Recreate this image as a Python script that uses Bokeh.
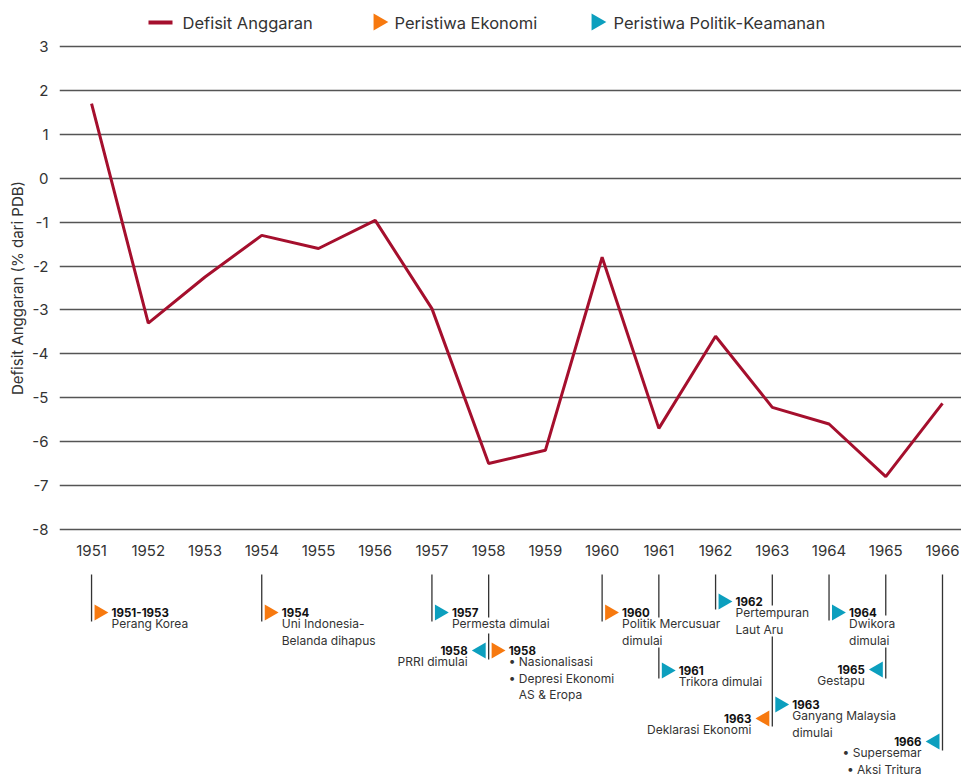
import numpy as np
from bokeh.plotting import figure
from bokeh.models import Range1d, FixedTicker, ColumnDataSource
from bokeh.layouts import column
from bokeh.embed import file_html
from bokeh.resources import INLINE
from bokeh.core.properties import value

# ---------------- data ----------------
years = [1951, 1952, 1953, 1954, 1955, 1956, 1957, 1958,
         1959, 1960, 1961, 1962, 1963, 1964, 1965, 1966]
deficit = [1.7, -3.3, -2.25, -1.3, -1.6, -0.96, -2.97, -6.5,
           -6.2, -1.8, -5.7, -3.6, -5.22, -5.6, -6.8, -5.13]
y_ticks = list(range(-8, 4))

ev_year = [1951, 1954, 1957, 1958, 1958, 1960, 1961, 1962, 1963, 1963, 1964, 1965, 1966]
ev_label = ["1951-1953", "1954", "1957", "1958", "1958", "1960", "1961",
            "1962", "1963", "1963", "1964", "1965", "1966"]
ev_text = ["Perang Korea",
           "Uni Indonesia-\nBelanda dihapus",
           "Permesta dimulai",
           "PRRI dimulai",
           "\u2022 Nasionalisasi\n\u2022 Depresi Ekonomi\n\u00a0\u00a0\u00a0AS & Eropa",
           "Politik Mercusuar\ndimulai",
           "Trikora dimulai",
           "Pertempuran\nLaut Aru",
           "Ganyang Malaysia\ndimulai",
           "Deklarasi Ekonomi",
           "Dwikora\ndimulai",
           "Gestapu",
           "\u2022 Supersemar\n\u2022 Aksi Tritura"]
ev_type = ["Ekonomi", "Ekonomi", "Politik", "Politik", "Ekonomi", "Ekonomi", "Politik",
           "Politik", "Politik", "Ekonomi", "Politik", "Politik", "Politik"]

legend_labels = ["Defisit Anggaran", "Peristiwa Ekonomi", "Peristiwa Politik-Keamanan"]

# ---------------- layout of the timeline (page pixels) ----------------
ev_side = ["R", "R", "R", "L", "R", "R", "R", "R", "R", "L", "R", "L", "L"]
ev_marker_y = [612, 612, 612, 650, 650, 612, 670, 601, 704, 718, 612, 669, 741]
seg_year = [1951, 1954, 1957, 1958, 1958, 1960, 1961, 1961, 1962, 1963, 1963, 1964, 1965, 1965, 1966]
seg_top = [574, 574, 574, 574, 633, 574, 574, 647, 574, 574, 636, 574, 574, 647, 574]
seg_bot = [621, 621, 621, 617, 659, 621, 617, 678, 609, 605, 726, 620, 615, 678, 750]

FONT = "Inter"
RED = "#A50F2D"
ORANGE = "#F7790F"
BLUE = "#0C9FBE"
TEXT = "#333333"
GRID = "#555555"

W = 961
LEFT = 59
xr = Range1d(1950.435, 1966.335)
ppy = (W - LEFT) / (xr.end - xr.start)  # pixels per year

common = dict(output_backend="svg", toolbar_location=None, min_border=0,
              min_border_left=LEFT, outline_line_color=None)

# ---------------- legend strip (page 0..36) ----------------
leg = figure(width=W, height=36, x_range=Range1d(59, 961), y_range=Range1d(36, 0),
             x_axis_location=None, y_axis_location=None, **common)
leg.grid.visible = False
leg.segment(x0=[148], y0=[22], x1=[172], y1=[22], line_color=RED, line_width=4)
leg.scatter(x=[378, 596], y=[21.5, 21.5], marker="triangle", size=17,
            angle=-np.pi / 2, fill_color=[ORANGE, BLUE], line_color=None)
leg.text(x=[182, 394, 613], y=[22, 22, 22], text=legend_labels,
         text_font=value(FONT), text_font_size="16.5px", text_baseline="middle",
         text_color=TEXT)

# ---------------- main chart (page 36..565) ----------------
p = figure(width=W, height=529, x_range=xr, y_range=Range1d(-8.05, 3.05),
           min_border_top=8, min_border_bottom=34, **common)
p.line(years, deficit, line_color=RED, line_width=3)
p.xgrid.visible = False
p.ygrid.ticker = FixedTicker(ticks=y_ticks)
p.ygrid.grid_line_color = GRID
p.ygrid.grid_line_width = 1.5

p.xaxis.ticker = FixedTicker(ticks=years)
p.yaxis.ticker = FixedTicker(ticks=y_ticks)
p.yaxis.major_label_overrides = {t: str(t) for t in y_ticks}
for ax in (p.xaxis, p.yaxis):
    ax.axis_line_color = None
    ax.major_tick_line_color = None
    ax.minor_tick_line_color = None
    ax.major_tick_in = 0
    ax.major_tick_out = 0
    ax.minor_tick_in = 0
    ax.minor_tick_out = 0
    ax.major_label_text_font = FONT
    ax.major_label_text_font_size = "15px"
    ax.major_label_text_color = TEXT
p.xaxis.major_label_standoff = 13
p.yaxis.major_label_standoff = 11
p.yaxis.axis_label = "Defisit Anggaran (% dari PDB)"
p.yaxis.axis_label_text_font = FONT
p.yaxis.axis_label_text_font_size = "15px"
p.yaxis.axis_label_text_font_style = "normal"
p.yaxis.axis_label_text_color = TEXT
p.yaxis.axis_label_standoff = 2

# ---------------- timeline (page 565..776) ----------------
b = figure(width=W, height=211, x_range=xr, y_range=Range1d(776, 565),
           x_axis_location=None, y_axis_location=None, **common)
b.grid.visible = False
b.segment(x0=seg_year, y0=seg_top, x1=seg_year, y1=seg_bot,
          line_color="#333333", line_width=1.3)

sign = [1 if s == "R" else -1 for s in ev_side]
mk = ColumnDataSource(dict(
    x=[yr + sg * 7.6 / ppy for yr, sg in zip(ev_year, sign)],
    y=ev_marker_y,
    angle=[-np.pi / 2 if sg > 0 else np.pi / 2 for sg in sign],
    color=[ORANGE if t == "Ekonomi" else BLUE for t in ev_type],
))
b.scatter(x="x", y="y", angle="angle", marker="triangle", size=16,
          fill_color="color", line_color=None, source=mk)

for side, align, off in (("R", "left", 20), ("L", "right", -21)):
    idx = [i for i, s in enumerate(ev_side) if s == side]
    src = ColumnDataSource(dict(
        x=[ev_year[i] for i in idx],
        yl=[ev_marker_y[i] for i in idx],
        yt=[ev_marker_y[i] + 3.5 for i in idx],
        label=[ev_label[i] for i in idx],
        body=[ev_text[i] for i in idx],
    ))
    b.text(x="x", y="yl", text="label", source=src, x_offset=off,
           text_font=value(FONT), text_font_size="11.5px", text_font_style="bold",
           text_color="#111111", text_align=align, text_baseline="middle")
    b.text(x="x", y="yt", text="body", source=src, x_offset=off,
           text_font=value(FONT), text_font_size="12px",
           text_color=TEXT, text_align=align, text_baseline="top",
           text_line_height=1.1)

layout = column(leg, p, b, spacing=0)
open("out.html", "w").write(file_html(layout, INLINE))
